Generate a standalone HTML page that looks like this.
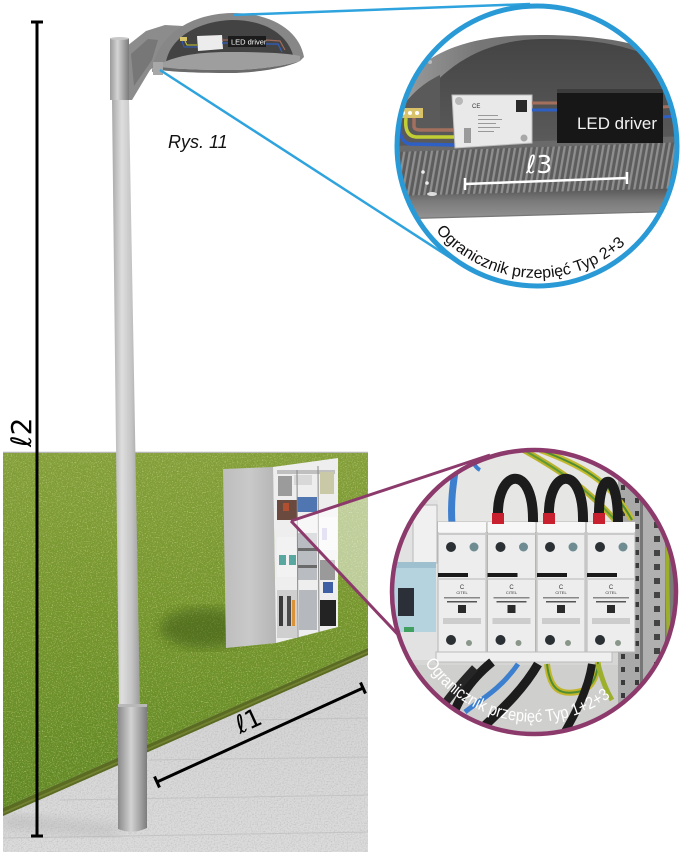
<!DOCTYPE html>
<html><head><meta charset="utf-8"><style>
html,body{margin:0;padding:0;background:#fff;}
svg{display:block;}
</style></head><body>
<svg width="687" height="852" viewBox="0 0 687 852" xmlns="http://www.w3.org/2000/svg">
<defs>
 <linearGradient id="grassG" x1="0" y1="0" x2="0" y2="1">
  <stop offset="0" stop-color="#86a23e"/>
  <stop offset="0.45" stop-color="#74962e"/>
  <stop offset="1" stop-color="#5b8623"/>
 </linearGradient>
 <linearGradient id="pavG" x1="0" y1="0" x2="0" y2="1">
  <stop offset="0" stop-color="#d2d2d2"/>
  <stop offset="1" stop-color="#dcdcdc"/>
 </linearGradient>
 <linearGradient id="poleG" x1="0" y1="0" x2="1" y2="0">
  <stop offset="0" stop-color="#a9a9a9"/>
  <stop offset="0.35" stop-color="#dedede"/>
  <stop offset="0.7" stop-color="#c4c4c4"/>
  <stop offset="1" stop-color="#9c9c9c"/>
 </linearGradient>
 <linearGradient id="sleeveG" x1="0" y1="0" x2="1" y2="0">
  <stop offset="0" stop-color="#8a8a8a"/>
  <stop offset="0.45" stop-color="#d2d2d2"/>
  <stop offset="0.75" stop-color="#a6a6a6"/>
  <stop offset="1" stop-color="#7c7c7c"/>
 </linearGradient>
 <linearGradient id="capG" x1="0" y1="0" x2="1" y2="0">
  <stop offset="0" stop-color="#9a9a9a"/>
  <stop offset="0.4" stop-color="#d4d4d4"/>
  <stop offset="0.75" stop-color="#a0a0a0"/>
  <stop offset="1" stop-color="#7a7a7a"/>
 </linearGradient>
 <linearGradient id="cabSide" x1="0" y1="0" x2="1" y2="0">
  <stop offset="0" stop-color="#bdbdbd"/>
  <stop offset="0.5" stop-color="#c9c9c9"/>
  <stop offset="1" stop-color="#b5b5b5"/>
 </linearGradient>
 <linearGradient id="rimG" x1="0" y1="0" x2="0" y2="1">
  <stop offset="0" stop-color="#565656"/>
  <stop offset="0.4" stop-color="#7a7a7a"/>
  <stop offset="1" stop-color="#959595"/>
 </linearGradient>
 <linearGradient id="wallG" x1="0" y1="0" x2="0" y2="1">
  <stop offset="0" stop-color="#444"/>
  <stop offset="1" stop-color="#5e5e5e"/>
 </linearGradient>
 <linearGradient id="shellG" x1="0" y1="0" x2="1" y2="0">
  <stop offset="0" stop-color="#a0a0a0"/>
  <stop offset="0.3" stop-color="#767676"/>
  <stop offset="1" stop-color="#666"/>
 </linearGradient>
 <pattern id="fins" patternUnits="userSpaceOnUse" width="5.5" height="60" patternTransform="skewX(-10)">
  <rect width="5.5" height="60" fill="#5d5d5d"/>
  <rect x="1" width="2.3" height="60" fill="#8f8f8f"/>
 </pattern>
 <pattern id="holes" patternUnits="userSpaceOnUse" width="14" height="13">
  <rect width="14" height="13" fill="#a9a9a9"/>
  <rect x="5" y="4" width="4" height="5" fill="#3a3a3a"/>
 </pattern>
 <pattern id="holes2" patternUnits="userSpaceOnUse" width="18" height="14">
  <rect width="18" height="14" fill="#b0b0b0"/>
  <rect x="6" y="4" width="6" height="6" fill="#444"/>
 </pattern>
 <clipPath id="bc"><circle cx="537" cy="146" r="140"/></clipPath>
 <clipPath id="pc"><circle cx="534" cy="592" r="142"/></clipPath>
 <clipPath id="grassClip"><polygon points="3,453 368,453 368,648 3,808"/></clipPath>
 <clipPath id="pavClip"><polygon points="3,808 368,648 368,852 3,852"/></clipPath>
 <filter id="nz" x="0" y="0" width="1" height="1">
  <feTurbulence type="fractalNoise" baseFrequency="0.9 0.45" numOctaves="2" seed="5" result="t"/>
  <feColorMatrix in="t" type="matrix" values="0 0 0 0 0.2  0 0 0 0 0.3  0 0 0 0 0.03  1.8 0 0 0 -0.75"/>
 </filter>
 <filter id="nz2" x="0" y="0" width="1" height="1">
  <feTurbulence type="fractalNoise" baseFrequency="0.8" numOctaves="2" seed="9" result="t"/>
  <feColorMatrix in="t" type="matrix" values="0 0 0 0 0.75  0 0 0 0 0.8  0 0 0 0 0.35  0 1.8 0 0 -0.95"/>
 </filter>
 <filter id="nz3" x="0" y="0" width="1" height="1">
  <feTurbulence type="fractalNoise" baseFrequency="0.7" numOctaves="2" seed="2" result="t"/>
  <feColorMatrix in="t" type="matrix" values="0 0 0 0 0.45  0 0 0 0 0.45  0 0 0 0 0.45  1.4 0 0 0 -0.6"/>
 </filter>
 <filter id="blur4"><feGaussianBlur stdDeviation="6"/></filter>
</defs>

<rect width="687" height="852" fill="#fff"/>

<!-- pavement -->
<polygon points="3,808 368,648 368,852 3,852" fill="url(#pavG)"/>
<g clip-path="url(#pavClip)">
 <rect x="3" y="640" width="366" height="212" filter="url(#nz3)"/>
 <g stroke="#bdbdbd" stroke-width="1" opacity="0.7">
  <line x1="3" y1="838" x2="368" y2="832"/>
  <line x1="60" y1="800" x2="368" y2="795"/>
  <line x1="150" y1="760" x2="368" y2="757"/>
  <line x1="250" y1="720" x2="368" y2="718"/>
 </g>
 <polygon points="3,815 118,826 118,836 3,828" fill="#9a9a9a" opacity="0.35" filter="url(#blur4)"/>
</g>

<!-- grass -->
<line x1="3" y1="452.5" x2="368" y2="452.5" stroke="#b5b5b5" stroke-width="1.5"/>
<polygon points="3,453 368,453 368,648 3,808" fill="url(#grassG)"/>
<g clip-path="url(#grassClip)">
 <rect x="3" y="453" width="366" height="356" filter="url(#nz)"/>
 <rect x="3" y="453" width="366" height="356" filter="url(#nz2)"/>
 <ellipse cx="205" cy="628" rx="45" ry="20" fill="#2f4a10" opacity="0.45" filter="url(#blur4)"/>
</g>
<polygon points="3,808 368,648 368,655 3,816" fill="#5a6b22"/>
<polygon points="3,812 368,651 368,653 3,814" fill="#7e8a3a" opacity="0.7"/>

<!-- pole -->
<polygon points="112,100 129,100 140,706 119,706" fill="url(#poleG)"/>
<path d="M118,706 L147,706 L147,828 Q132,835 118,829 Z" fill="url(#sleeveG)"/>
<rect x="118" y="704" width="29" height="3" fill="#b8b8b8"/>

<!-- cabinet -->
<polygon points="223,469 273,467 276,643 226,648" fill="url(#cabSide)"/>
<polygon points="273,467 338,458 338,627 276,643" fill="#eeeeee"/>
<g>
 <rect x="277" y="470" width="58" height="4" fill="#bfbfbf"/>
 <rect x="278" y="476" width="14" height="20" fill="#9b9b9b"/>
 <rect x="294" y="475" width="18" height="10" fill="#d8d8d8"/>
 <rect x="320" y="472" width="14" height="22" fill="#c9c9a8"/>
 <rect x="297" y="497" width="20" height="15" fill="#4f76b0"/>
 <rect x="277" y="500" width="20" height="20" fill="#6a4a3e"/>
 <rect x="283" y="503" width="6" height="8" fill="#b05030"/>
 <rect x="318" y="517" width="19" height="33" fill="#f6f6f8"/>
 <rect x="322" y="528" width="5" height="12" fill="#c8c4e6"/>
 <rect x="277" y="537" width="20" height="40" fill="#f2f2f2"/>
 <rect x="279" y="555" width="7" height="10" fill="#5aa6a0"/>
 <rect x="289" y="555" width="7" height="10" fill="#5aa6a0"/>
 <rect x="298" y="533" width="19" height="47" fill="#b9bcc0"/>
 <rect x="298" y="548" width="19" height="3" fill="#6a6a6a"/>
 <rect x="298" y="565" width="19" height="3" fill="#6a6a6a"/>
 <rect x="320" y="560" width="15" height="20" fill="#9a9a9a"/>
 <rect x="323" y="582" width="10" height="11" fill="#3f5fa5"/>
 <rect x="277" y="590" width="20" height="48" fill="#cfcfcf"/>
 <rect x="279" y="596" width="4" height="30" fill="#3a3a3a"/>
 <rect x="287" y="596" width="4" height="30" fill="#4a4a4a"/>
 <rect x="292" y="600" width="3" height="26" fill="#d9923a"/>
 <rect x="299" y="590" width="18" height="40" fill="#b5b8bc"/>
 <rect x="320" y="600" width="16" height="26" fill="#232323"/>
 <line x1="297" y1="470" x2="298" y2="638" stroke="#888" stroke-width="1"/>
 <line x1="318" y1="466" x2="319" y2="632" stroke="#888" stroke-width="1"/>
</g>

<!-- purple wedge + lines -->
<polygon points="291,521 488,455 403,640" fill="#ffffff" opacity="0.5"/>
<line x1="291" y1="521" x2="490" y2="455" stroke="#8c3a6c" stroke-width="3"/>
<line x1="291" y1="521" x2="404" y2="641" stroke="#8c3a6c" stroke-width="3"/>

<!-- purple circle contents -->
<g clip-path="url(#pc)">
 <rect x="390" y="448" width="290" height="290" fill="#d6d6d4"/>
 <rect x="390" y="448" width="290" height="75" fill="#e6e6e4"/>
 <rect x="390" y="665" width="230" height="75" fill="#cfcfcd"/>
 <rect x="618" y="470" width="22" height="270" fill="url(#holes)"/>
 <rect x="643" y="470" width="22" height="270" fill="url(#holes2)"/>
 <rect x="640" y="470" width="3" height="270" fill="#777"/>
 <rect x="665" y="470" width="20" height="270" fill="#7a7a7a"/>
 <path d="M668,520 C665,600 672,660 668,720" stroke="#9cae2a" stroke-width="4" fill="none"/>
 <path d="M520,448 C560,470 590,490 622,528" stroke="#b9b22a" stroke-width="6" fill="none"/>
 <path d="M520,448 C560,470 590,490 622,528" stroke="#5f9a38" stroke-width="2" fill="none"/>
 <path d="M540,450 C580,465 610,480 632,520" stroke="#c4ba30" stroke-width="6" fill="none"/>
 <path d="M540,450 C580,465 610,480 632,520" stroke="#4f8d35" stroke-width="2" fill="none"/>
 <path d="M452,524 C450,495 455,475 458,450" stroke="#3d7fcf" stroke-width="7" fill="none"/>
 <path d="M470,452 C472,462 476,468 480,470" stroke="#3d7fcf" stroke-width="4" fill="none"/>
 <rect x="390" y="500" width="48" height="160" fill="#e2e2e2"/>
 <rect x="413" y="505" width="24" height="58" fill="#f0f0f0" stroke="#b9b9b9"/>
 <rect x="393" y="562" width="43" height="70" fill="#b5d2df"/>
 <rect x="393" y="562" width="43" height="6" fill="#9fc0cf"/>
 <rect x="398" y="588" width="16" height="28" fill="#2a2f38"/>
 <rect x="404" y="627" width="10" height="5" fill="#3fa060"/>
 <g transform="translate(438,0)">
  <rect x="0" y="522" width="48" height="130" fill="#ededed" stroke="#b5b5b5"/>
  <rect x="0" y="522" width="48" height="10" fill="#f7f7f7"/>
  <rect x="0" y="533" width="48" height="2" fill="#cacaca"/>
  <circle cx="13" cy="547" r="5" fill="#2b3034"/><circle cx="36" cy="547" r="4.5" fill="#6f8c92"/>
  <rect x="0" y="573" width="30" height="4" fill="#1a1a1a"/>
  <rect x="0" y="578" width="48" height="2" fill="#d2d2d2"/>
  <text x="24" y="589" font-family="Liberation Sans, sans-serif" font-size="6" text-anchor="middle" fill="#333">C</text>
  <text x="24" y="594" font-family="Liberation Sans, sans-serif" font-size="4" text-anchor="middle" fill="#333">CITEL</text>
  <rect x="6" y="597" width="36" height="1.5" fill="#888"/><rect x="9" y="601" width="30" height="1.5" fill="#555"/>
  <rect x="20" y="605" width="8" height="8" fill="#2a2a2a"/>
  <rect x="5" y="618" width="38" height="6" fill="#b5b5b5" opacity="0.6"/>
  <circle cx="13" cy="640" r="5" fill="#2b3034"/><circle cx="31" cy="643" r="3" fill="#8a968a"/>
 </g>
 <g transform="translate(487.5,0)">
  <rect x="0" y="522" width="48" height="130" fill="#ededed" stroke="#b5b5b5"/>
  <rect x="0" y="522" width="48" height="10" fill="#f7f7f7"/>
  <rect x="0" y="533" width="48" height="2" fill="#cacaca"/>
  <circle cx="13" cy="547" r="5" fill="#2b3034"/><circle cx="36" cy="547" r="4.5" fill="#6f8c92"/>
  <rect x="0" y="573" width="30" height="4" fill="#1a1a1a"/>
  <rect x="0" y="578" width="48" height="2" fill="#d2d2d2"/>
  <text x="24" y="589" font-family="Liberation Sans, sans-serif" font-size="6" text-anchor="middle" fill="#333">C</text>
  <text x="24" y="594" font-family="Liberation Sans, sans-serif" font-size="4" text-anchor="middle" fill="#333">CITEL</text>
  <rect x="6" y="597" width="36" height="1.5" fill="#888"/><rect x="9" y="601" width="30" height="1.5" fill="#555"/>
  <rect x="20" y="605" width="8" height="8" fill="#2a2a2a"/>
  <rect x="5" y="618" width="38" height="6" fill="#b5b5b5" opacity="0.6"/>
  <circle cx="13" cy="640" r="5" fill="#2b3034"/><circle cx="31" cy="643" r="3" fill="#8a968a"/>
 </g>
 <g transform="translate(537,0)">
  <rect x="0" y="522" width="48" height="130" fill="#ededed" stroke="#b5b5b5"/>
  <rect x="0" y="522" width="48" height="10" fill="#f7f7f7"/>
  <rect x="0" y="533" width="48" height="2" fill="#cacaca"/>
  <circle cx="13" cy="547" r="5" fill="#2b3034"/><circle cx="36" cy="547" r="4.5" fill="#6f8c92"/>
  <rect x="0" y="573" width="30" height="4" fill="#1a1a1a"/>
  <rect x="0" y="578" width="48" height="2" fill="#d2d2d2"/>
  <text x="24" y="589" font-family="Liberation Sans, sans-serif" font-size="6" text-anchor="middle" fill="#333">C</text>
  <text x="24" y="594" font-family="Liberation Sans, sans-serif" font-size="4" text-anchor="middle" fill="#333">CITEL</text>
  <rect x="6" y="597" width="36" height="1.5" fill="#888"/><rect x="9" y="601" width="30" height="1.5" fill="#555"/>
  <rect x="20" y="605" width="8" height="8" fill="#2a2a2a"/>
  <rect x="5" y="618" width="38" height="6" fill="#b5b5b5" opacity="0.6"/>
  <circle cx="13" cy="640" r="5" fill="#2b3034"/><circle cx="31" cy="643" r="3" fill="#8a968a"/>
 </g>
 <g transform="translate(587,0)">
  <rect x="0" y="522" width="48" height="130" fill="#ededed" stroke="#b5b5b5"/>
  <rect x="0" y="522" width="48" height="10" fill="#f7f7f7"/>
  <rect x="0" y="533" width="48" height="2" fill="#cacaca"/>
  <circle cx="13" cy="547" r="5" fill="#2b3034"/><circle cx="36" cy="547" r="4.5" fill="#6f8c92"/>
  <rect x="0" y="573" width="30" height="4" fill="#1a1a1a"/>
  <rect x="0" y="578" width="48" height="2" fill="#d2d2d2"/>
  <text x="24" y="589" font-family="Liberation Sans, sans-serif" font-size="6" text-anchor="middle" fill="#333">C</text>
  <text x="24" y="594" font-family="Liberation Sans, sans-serif" font-size="4" text-anchor="middle" fill="#333">CITEL</text>
  <rect x="6" y="597" width="36" height="1.5" fill="#888"/><rect x="9" y="601" width="30" height="1.5" fill="#555"/>
  <rect x="20" y="605" width="8" height="8" fill="#2a2a2a"/>
  <rect x="5" y="618" width="38" height="6" fill="#b5b5b5" opacity="0.6"/>
  <circle cx="13" cy="640" r="5" fill="#2b3034"/><circle cx="31" cy="643" r="3" fill="#8a968a"/>
 </g>
 <path d="M498,518 C496,468 534,462 533,522" stroke="#1c1c1c" stroke-width="10" fill="none"/>
 <path d="M549,518 C547,468 584,462 583,522" stroke="#1c1c1c" stroke-width="10" fill="none"/>
 <path d="M599,518 C598,470 618,468 618,522" stroke="#1c1c1c" stroke-width="10" fill="none"/>
 <rect x="492" y="513" width="12" height="11" fill="#c8202e"/>
 <rect x="543" y="513" width="12" height="11" fill="#c8202e"/>
 <rect x="593" y="513" width="12" height="11" fill="#c8202e"/>
 <rect x="436" y="652" width="176" height="10" fill="#efefef" stroke="#bbbbbb"/>
 <path d="M445,740 C455,700 470,680 492,662" stroke="#1c1c1c" stroke-width="9" fill="none"/>
 <path d="M425,740 C440,705 455,690 475,668" stroke="#262626" stroke-width="8" fill="none"/>
 <path d="M465,712 C480,700 500,690 518,664" stroke="#3d7fcf" stroke-width="5" fill="none"/>
 <path d="M470,740 C495,715 520,695 538,664" stroke="#1c1c1c" stroke-width="9" fill="none"/>
 <path d="M547,664 C550,690 560,695 577,692 C590,690 597,680 598,662" stroke="#c2b52a" stroke-width="6" fill="none"/>
 <path d="M547,664 C550,690 560,695 577,692 C590,690 597,680 598,662" stroke="#4f8d35" stroke-width="2" fill="none"/>
 <path d="M560,740 C575,715 588,690 592,664" stroke="#1c1c1c" stroke-width="8" fill="none"/>
 <path d="M598,664 C602,680 606,690 612,700" stroke="#9cb02e" stroke-width="5" fill="none"/>
 <path id="pArc" d="M425.0,662.8 A130,130 0 0 0 612.2,695.8" fill="none"/>
 <text font-family="Liberation Sans, sans-serif" font-size="17" fill="#ffffff"><textPath href="#pArc" textLength="211" lengthAdjust="spacingAndGlyphs">Ogranicznik przepięć Typ 1+2+3</textPath></text>
</g>
<circle cx="534" cy="592" r="142" fill="none" stroke="#8c3a6c" stroke-width="4.5"/>

<!-- lamp arm + cap -->
<path d="M127,46 L146,31 L165,25 L183,26 L170,38 L162,60 L150,70 L132,100 L127,100 Z" fill="#8c8c8c"/>
<path d="M131,54 L148,39 L158,40 L152,60 L134,86 Z" fill="#777"/>
<rect x="110" y="38" width="19" height="62" fill="url(#capG)"/>
<ellipse cx="119.5" cy="38.5" rx="9.5" ry="1.5" fill="#c8c8c8"/>

<!-- lamp head -->
<path d="M152,72 C155,40 185,14 232,13 C275,13 300,33 304,57 L300,61 L162,69 Z" fill="#878787"/>
<path d="M166,62 C170,38 198,21 232,20 C266,20 287,35 293,55 Z" fill="#434343"/>
<path d="M160,64 C178,55 200,52 230,52 C262,52 288,53 300,56 L300,61 C285,66 255,70 230,70 C200,70 176,69 160,67 Z" fill="#9e9e9e"/>
<path d="M160,67 C176,69 200,70 230,70 C255,70 285,66 300,61 L302,60 C288,68 255,73 230,73 C198,73 175,72 160,70 Z" fill="#6a6a6a"/>
<rect x="153" y="62" width="10" height="13" fill="#a8a8a8"/>
<polygon points="197,36 222,35 223,49 198,51" fill="#ececec"/>
<rect x="228" y="36" width="38" height="11" fill="#1b1b1b"/>
<text x="231" y="44.5" font-family="Liberation Sans, sans-serif" font-size="7.5" fill="#fff">LED driver</text>
<line x1="222" y1="40" x2="228" y2="40" stroke="#a06a5a" stroke-width="1.2"/>
<line x1="222" y1="43" x2="228" y2="43" stroke="#2f5fc0" stroke-width="1.2"/>
<path d="M266,40 L280,41 L285,50" stroke="#a06a5a" stroke-width="1.2" fill="none"/>
<path d="M266,44 L278,44 L282,52" stroke="#2f5fc0" stroke-width="1.2" fill="none"/>
<rect x="180" y="37" width="7" height="4" fill="#d8c56a"/>
<path d="M182,41 L184,47 L197,47" stroke="#2f5fc0" stroke-width="1" fill="none"/>
<path d="M185,41 L187,45 L197,45" stroke="#c7c83a" stroke-width="1" fill="none"/>

<!-- blue lines -->
<line x1="233" y1="15" x2="530" y2="4" stroke="#2fa3dd" stroke-width="2.5"/>
<line x1="160" y1="70" x2="460" y2="264" stroke="#2fa3dd" stroke-width="2.5"/>

<!-- blue circle contents -->
<g clip-path="url(#bc)">
 <rect x="395" y="0" width="290" height="290" fill="#fff"/>
 <path d="M392,100 C420,50 470,35 540,35 C610,35 655,45 690,70 L690,230 L392,230 Z" fill="url(#shellG)"/>
 <path d="M420,100 C450,60 490,40 540,39 C610,38 650,50 690,80 L690,150 L420,160 Z" fill="url(#wallG)"/>
 <path d="M392,120 C410,95 420,85 440,75 L440,160 L392,165 Z" fill="#5a5a5a"/>
 <polygon points="392,150 690,140 690,190 392,198" fill="url(#fins)"/>
 <polygon points="392,146 690,136 690,142 392,152" fill="#6a6a6a"/>
 <polygon points="392,196 690,188 690,212 392,220" fill="url(#rimG)"/>
 <polygon points="392,219 690,211 690,300 392,300" fill="#fff"/>
 <line x1="392" y1="219" x2="690" y2="211" stroke="#777" stroke-width="1.2"/>
 <circle cx="423" cy="172" r="1.8" fill="#eee"/><circle cx="427" cy="183" r="1.8" fill="#eee"/>
 <ellipse cx="432" cy="194" rx="5" ry="2" fill="#ddd"/>
 <circle cx="430" cy="62" r="2" fill="#bbb"/>
 <rect x="397" y="108" width="26" height="10" fill="#d9c36a"/>
 <circle cx="403" cy="113" r="2" fill="#fff"/><circle cx="410" cy="113" r="2" fill="#fff"/><circle cx="417" cy="113" r="2" fill="#fff"/>
 <path d="M414,118 L414,127 Q415,130 420,130 L453,130" stroke="#a4705e" stroke-width="3.5" fill="none"/>
 <path d="M406,118 Q404,136 416,137 L454,137" stroke="#c2cf34" stroke-width="3.5" fill="none"/>
 <path d="M399,118 Q398,142 410,144 L455,145" stroke="#2d5fc5" stroke-width="3.5" fill="none"/>
 <polygon points="452,95 532,95 532,143 455,148" fill="#e9e9e9" stroke="#bdbdbd"/>
 <circle cx="459" cy="101" r="4" fill="#b8b8b8"/>
 <circle cx="524" cy="138" r="3.5" fill="#a8a8a8"/>
 <text x="472" y="108" font-family="Liberation Sans, sans-serif" font-size="6" fill="#333">CE</text>
 <rect x="516" y="100" width="11" height="12" fill="#2a2a2a"/>
 <rect x="464" y="128" width="7" height="15" fill="#9a9a9a"/>
 <g fill="#999"><rect x="478" y="115" width="20" height="1"/><rect x="478" y="119" width="24" height="1"/><rect x="478" y="123" width="18" height="1"/><rect x="478" y="127" width="22" height="1"/><rect x="478" y="131" width="16" height="1"/></g>
 <line x1="532" y1="103" x2="558" y2="103" stroke="#a4705e" stroke-width="3"/>
 <line x1="532" y1="110" x2="558" y2="110" stroke="#2d5fc5" stroke-width="3"/>
 <line x1="663" y1="107" x2="690" y2="105" stroke="#a4705e" stroke-width="3"/>
 <line x1="663" y1="117" x2="690" y2="115" stroke="#2d5fc5" stroke-width="3"/>
 <rect x="557" y="91" width="106" height="52" fill="#171717"/>
 <rect x="557" y="89" width="106" height="4" fill="#3c3c3c"/>
 <text x="577" y="129" font-family="Liberation Sans, sans-serif" font-size="17" fill="#f2f2f2" textLength="80" lengthAdjust="spacingAndGlyphs">LED driver</text>
 <line x1="465" y1="184" x2="627" y2="178" stroke="#fff" stroke-width="2.5"/>
 <line x1="465" y1="178" x2="465" y2="190" stroke="#fff" stroke-width="2.5"/>
 <line x1="627" y1="172" x2="627" y2="184" stroke="#fff" stroke-width="2.5"/>
 <text x="526" y="173" font-family="DejaVu Sans, sans-serif" font-size="25" fill="#fff">ℓ3</text>
 <path id="bArc" d="M435.9,230.8 A132,132 0 0 0 627.0,242.5" fill="none"/>
 <text font-family="Liberation Sans, sans-serif" font-size="16" fill="#111"><textPath href="#bArc" textLength="212" lengthAdjust="spacingAndGlyphs">Ogranicznik przepięć Typ 2+3</textPath></text>
</g>
<circle cx="537" cy="146" r="140" fill="none" stroke="#2a9ad6" stroke-width="5"/>

<!-- l2 dimension -->
<line x1="37" y1="22" x2="37" y2="836" stroke="#000" stroke-width="3"/>
<line x1="31" y1="22" x2="43" y2="22" stroke="#000" stroke-width="3"/>
<line x1="31" y1="836" x2="43" y2="836" stroke="#000" stroke-width="3"/>
<text transform="translate(31,447) rotate(-90)" font-family="DejaVu Sans, sans-serif" font-size="28" fill="#000">ℓ2</text>

<!-- l1 dimension -->
<line x1="157" y1="782" x2="363" y2="688" stroke="#000" stroke-width="3"/>
<line x1="154.5" y1="776.5" x2="159.5" y2="787.5" stroke="#000" stroke-width="3"/>
<line x1="360.5" y1="682.5" x2="365.5" y2="693.5" stroke="#000" stroke-width="3"/>
<text transform="translate(240,734) rotate(-24.5)" font-family="DejaVu Sans, sans-serif" font-size="25" fill="#000">ℓ1</text>

<!-- caption -->
<text x="168" y="148" font-family="Liberation Sans, sans-serif" font-size="18" font-style="italic" fill="#111">Rys. 11</text>
</svg>
</body></html>
